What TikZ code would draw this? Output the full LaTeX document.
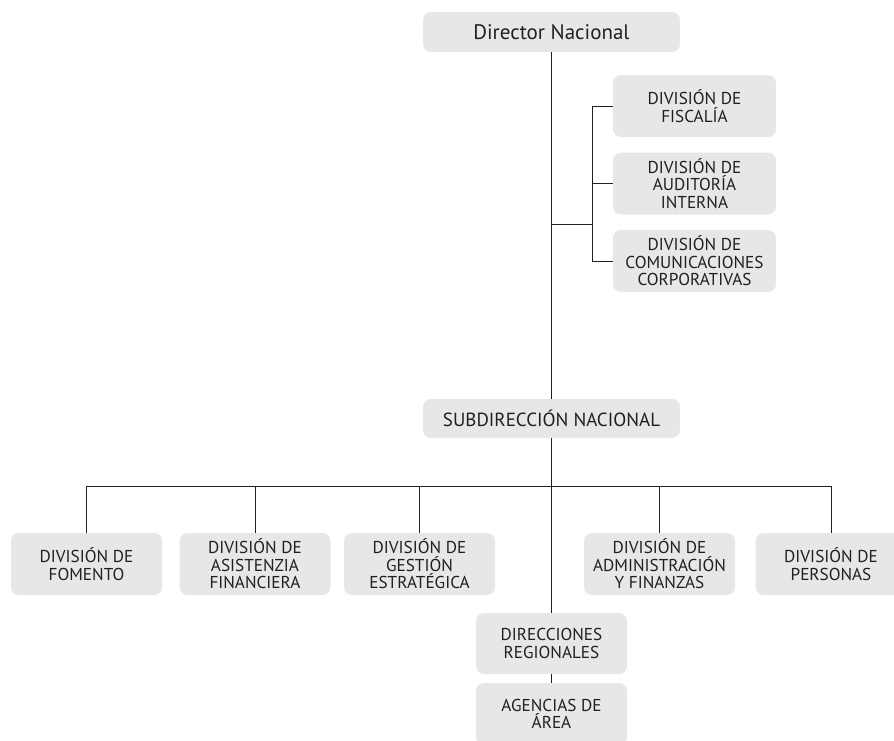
\documentclass[tikz,border=0pt]{standalone}
\usepackage{fontspec}
\setmainfont{PT Sans}
\usepackage{xcolor}
\definecolor{boxgray}{HTML}{E6E7E8}
\definecolor{inkgray}{HTML}{231F20}
\tikzset{
    unit/.style={fill=boxgray, rounded corners=8pt, align=center, text=inkgray,
        inner sep=0pt, font=\fontsize{17.2}{17.4}\selectfont},
    division/.style={unit, minimum width=151pt, minimum height=62pt},
    head/.style={unit, minimum width=257pt, minimum height=40pt},
    link/.style={draw=inkgray, line width=1pt}
}

\begin{document}
\begin{tikzpicture}[x=1pt, y=-1pt]
    \useasboundingbox (0,0) rectangle (894,740);
    \clip (0,0) rectangle (894,740);

    % top of the chart
    \node[head, font=\fontsize{21}{24}\selectfont] (dir) at (551.5,32) {Director Nacional};
    \node[division, minimum width=163pt] (fis) at (694.5,106) {DIVISIÓN DE\\FISCALÍA};
    \node[division, minimum width=163pt] (aud) at (694.5,183.5) {DIVISIÓN DE\\AUDITORÍA\\INTERNA};
    \node[division, minimum width=163pt] (com) at (694.5,261) {DIVISIÓN DE\\COMUNICACIONES\\CORPORATIVAS};
    \node[head, font=\fontsize{19}{22}\selectfont, minimum height=39pt] (sub) at (551.5,418.5) {SUBDIRECCIÓN NACIONAL};

    % divisions under the subdirección
    \node[division] (fom) at (86.5,564) {DIVISIÓN DE\\FOMENTO};
    \node[division] (asi) at (255,564) {DIVISIÓN DE\\ASISTENZIA\\FINANCIERA};
    \node[division] (ges) at (419.5,564) {DIVISIÓN DE\\GESTIÓN\\ESTRATÉGICA};
    \node[division] (adm) at (659.5,564) {DIVISIÓN DE\\ADMINISTRACIÓN\\Y FINANZAS};
    \node[division] (per) at (831,564) {DIVISIÓN DE\\PERSONAS};
    \node[division, minimum height=61pt] (reg) at (551.5,643.5) {DIRECCIONES\\REGIONALES};
    \node[division] (age) at (551.5,714) {AGENCIAS DE\\ÁREA};

    \coordinate (hub) at (592,224);
    \coordinate (bus) at (551.5,486);

    \draw[link] (dir.south) -- (sub.north);
    \draw[link] (dir.south |- hub) -- (hub);
    \draw[link] (fis.west) -| (hub);
    \draw[link] (com.west) -| (hub);
    \draw[link] (aud.west) -- (aud.west -| hub);

    \draw[link] (sub.south) -- (reg.north);
    \foreach \d in {fom,asi,ges,adm,per}
        \draw[link] (\d.north) |- (bus);
    \draw[link] (reg.south) -- (age.north);
\end{tikzpicture}
\end{document}
